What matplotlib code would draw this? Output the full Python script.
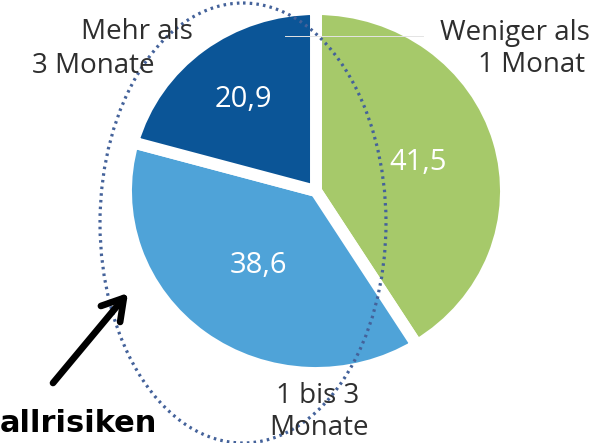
import numpy as np
import matplotlib
matplotlib.use("Agg")
import matplotlib.pyplot as plt
from matplotlib.patches import Ellipse

# ---- data ----
categories = ["Weniger als\n1 Monat", "1 bis 3\nMonate", "Mehr als\n3 Monate"]
values = [41.5, 38.6, 20.9]
colors = ["#a6c96a", "#4fa3d8", "#0b5597"]
annotation_text = "allrisiken"

W, H = 595, 443
fig = plt.figure(figsize=(W / 100, H / 100), dpi=100)
fig.patch.set_facecolor("white")

# pie axes (slightly elliptical like the reference)
ax = fig.add_axes([126 / W, 70 / H, 380 / W, 364 / H])
wedges, _ = ax.pie(values, colors=colors, startangle=90, counterclock=False,
                   radius=1.0,
                   wedgeprops=dict(edgecolor="white", linewidth=8.6))
ax.set_aspect("auto")
ax.set_xlim(-1, 1)
ax.set_ylim(-1, 1)
ax.axis("off")

label_r = [0.56, 0.51, 0.63]
for w, v, r in zip(wedges, values, label_r):
    th = np.deg2rad((w.theta1 + w.theta2) / 2)
    ax.text(r * np.cos(th), r * np.sin(th), f"{v:.1f}".replace(".", ","),
            ha="center", va="center", color="white", fontsize=21,
            family="Open Sans")

# overlay axes in pixel coordinates
ov = fig.add_axes([0, 0, 1, 1])
ov.set_xlim(0, W)
ov.set_ylim(H, 0)
ov.axis("off")
ov.patch.set_alpha(0)

txt_kw = dict(color="#2e2e2e", fontsize=20, family="Open Sans", va="baseline")
# category labels, line by line
l0 = categories[0].split("\n")
ov.text(590, 40, l0[0], ha="right", **txt_kw)
ov.text(585, 72, l0[1], ha="right", **txt_kw)
l1 = categories[1].split("\n")
ov.text(318, 403, l1[0], ha="center", **txt_kw)
ov.text(319, 435, l1[1], ha="center", **txt_kw)
l2 = categories[2].split("\n")
ov.text(193, 39, l2[0], ha="right", **txt_kw)
ov.text(155, 73, l2[1], ha="right", **txt_kw)

# faint scan line artefact
ov.plot([285, 423], [36, 36], color="#e4e4e4", lw=0.7)

# dotted ellipse
ov.add_patch(Ellipse((243, 223), 286, 440, fill=False, ec="#44629a",
                     lw=2.3, ls=(0, (0.8, 1.3))))

# arrow
ov.annotate("", xy=(128, 293), xytext=(53, 383),
            arrowprops=dict(arrowstyle="->,head_length=0.75,head_width=0.45",
                            lw=4.8, color="black", shrinkA=0, shrinkB=0,
                            mutation_scale=20))

ov.text(157, 432, annotation_text, ha="right", va="baseline", fontsize=22,
        fontweight="bold", family="DejaVu Sans", color="black")

fig.savefig("out.png", dpi=100, facecolor="white")
